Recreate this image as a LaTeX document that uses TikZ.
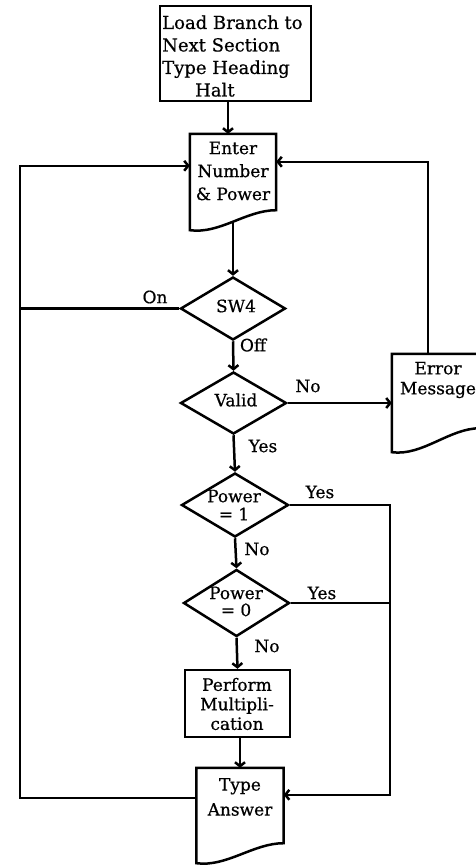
\documentclass[tikz,border=0pt]{standalone}
\usepackage{fontspec}
\setmainfont{DejaVu Serif}[FakeBold=0.6]
\usetikzlibrary{shapes.geometric,arrows.meta,calc}
\newcommand\docpath[2]{%
 \draw[line] let \p1=(#1.north west), \p2=(#1.south east), \n1={\x2-\x1} in
  (\x1,\y1) -- (\x2,\y1) -- (\x2,{\y2+#2pt}) .. controls ({\x2-0.35*\n1},{\y2+#2pt}) and ({\x1+0.35*\n1},{\y2-4pt}) .. (\x1,\y2) -- cycle;}
\begin{document}
\begin{tikzpicture}[x=1pt,y=-1pt,
  line/.style={line width=2.5pt},
  arr/.style={line, -{Straight Barb[length=4pt,width=10pt]}},
  box/.style={line, draw, rectangle, inner sep=0pt},
  dia/.style={line, draw, diamond, inner sep=0pt},
  docn/.style={rectangle, inner sep=0pt},
  txt/.style={font=\fontsize{17}{22}\selectfont, align=center, inner sep=0pt},
  lbl/.style={font=\fontsize{17}{18}\selectfont, inner sep=0pt},
]
\clip (0,0) rectangle (476,865);
\fill[white] (0,0) rectangle (476,865);

% boxes
\node[box, minimum width=151pt, minimum height=95pt] (load) at (235.5,53.5) {};
\node[txt, align=left, anchor=west, font=\fontsize{18}{22.5}\selectfont] (tload) at (162,56) {Load Branch to\\Next Section\\Type Heading\\\hspace*{33pt}Halt};

\node[docn, minimum width=86pt, minimum height=96pt] (enter) at (233,182) {};
\docpath{enter}{20}
\node[txt, font=\fontsize{17}{23}\selectfont] (tenter) at (233,171) {Enter\\Number\\\& Power};

\node[docn, minimum width=88pt, minimum height=98pt] (err) at (436,403) {};
\docpath{err}{24}
\node[txt, font=\fontsize{17}{20}\selectfont] (terr) at (438,380) {Error\\Message};

\node[docn, minimum width=87pt, minimum height=95pt] (ans) at (240,815.5) {};
\docpath{ans}{20}
\node[txt, font=\fontsize{17}{25}\selectfont] (tans) at (240,797) {Type\\Answer};

\node[dia, minimum width=105pt, minimum height=63pt] (sw4) at (233,308.5) {};
\node[lbl] (tsw4) at (236,306) {SW4};
\node[dia, minimum width=106pt, minimum height=62pt] (valid) at (233.5,403) {};
\node[lbl] (tvalid) at (236,400) {Valid};
\node[dia, minimum width=107pt, minimum height=64pt] (p1) at (235,505) {};
\node[txt, font=\fontsize{17}{18}\selectfont] (tp1) at (234,505) {Power\\= 1};
\node[dia, minimum width=106pt, minimum height=67pt] (p0) at (236.5,603) {};
\node[txt, font=\fontsize{17}{17}\selectfont] (tp0) at (236,601.5) {Power\\= 0};

\node[box, minimum width=105pt, minimum height=67pt] (perf) at (237.5,703.5) {};
\node[txt, font=\fontsize{17}{19.5}\selectfont] (tperf) at (237,704) {Perform\\Multipli-\\cation};

% labels
\node[lbl] (lon) at (155,297) {On};
\node[lbl] (loff) at (253,345) {Off};
\node[lbl] (lno1) at (308,386) {No};
\node[lbl] (lyes1) at (263,446) {Yes};
\node[lbl] (lyes2) at (320,492) {Yes};
\node[lbl] (lno2) at (257,549) {No};
\node[lbl] (lyes3) at (322,593) {Yes};
\node[lbl] (lno3) at (267,646) {No};

% coordinates
\coordinate (L) at (20,0);
\coordinate (R) at (390,0);
\coordinate (ansL) at ($(ans.north west)+(0,30)$);
\coordinate (ansR) at ($(ans.north east)+(0,27)$);
\coordinate (entL) at ($(enter.north west)+(0,32)$);
\coordinate (entR) at ($(enter.north east)+(0,28)$);
\coordinate (errT) at ($(err.north west)+(36,0)$);
\coordinate (entB) at ($(enter.south)+(0,-8.5)$);

% connectors
\draw[arr] ($(load.south)+(-7.5,0)$) -- ($(enter.north)+(-5,0)$);
\draw[arr] (entB) -- (entB |- sw4.north);
\draw[arr] (sw4.south) -- (valid.north);
\draw[arr] (valid.east) -- (err.west);
\draw[arr] (errT) |- (entR);
\draw[arr] (ansL) -- (ansL -| L) -- (entL -| L) -- (entL);
\draw[line] (sw4.west) -- (sw4.west -| L);
\draw[arr] (valid.south) -- (p1.north);
\draw[arr] (p1.south) -- (p0.north);
\draw[arr] (p0.south) -- (perf.north);
\draw[arr] (ans.north |- perf.south) -- (ans.north);
\draw[arr] (p1.east) -- (p1.east -| R) -- (ansR -| R) -- (ansR);
\draw[line] (p0.east) -- (p0.east -| R);
\end{tikzpicture}
\end{document}
